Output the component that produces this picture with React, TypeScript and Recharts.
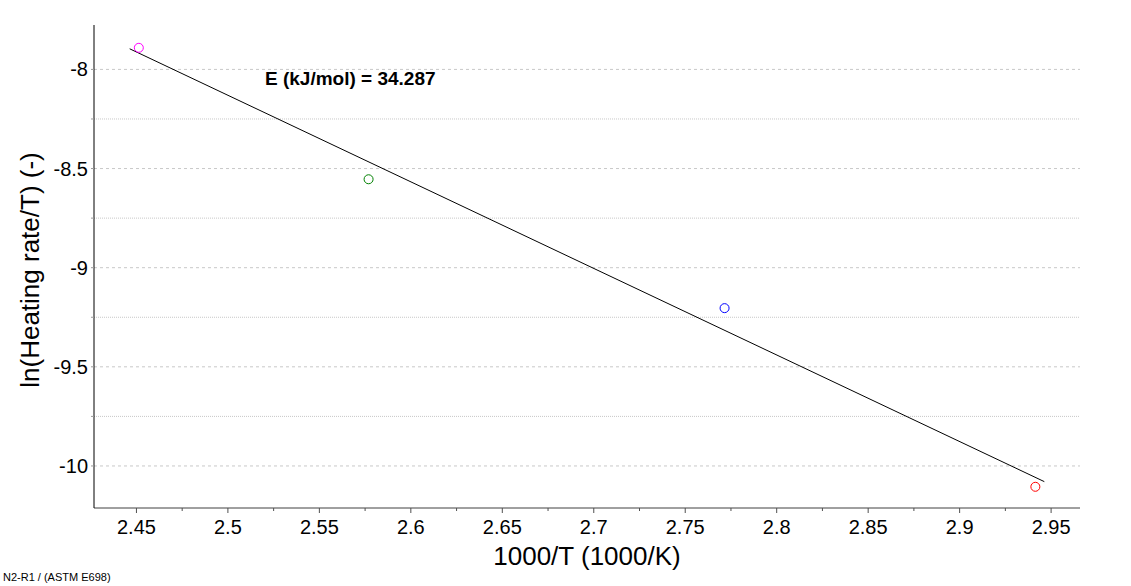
import React from "react";
import {
  ComposedChart,
  Scatter,
  XAxis,
  YAxis,
  ReferenceLine,
  Label,
} from "recharts";

// measured points (1000/T vs ln(rate/T))
const INV_T = [2.4513, 2.5769, 2.7715, 2.9414];
const LN_RATE = [-7.891, -8.554, -9.204, -10.105];
const POINT_COLORS = ["#ff00ff", "#008000", "#0000ff", "#ff0000"];

// regression line end points
const FIT_X = [2.4463, 2.9463];
const FIT_Y = [-7.896, -10.079];

const X_MAJOR = [2.45, 2.5, 2.55, 2.6, 2.65, 2.7, 2.75, 2.8, 2.85, 2.9, 2.95];
const X_MINOR = [2.475, 2.525, 2.575, 2.625, 2.675, 2.725, 2.775, 2.825, 2.875, 2.925];
const Y_MAJOR = [-10, -9.5, -9, -8.5, -8];
const Y_MINOR = [-9.75, -9.25, -8.75, -8.25];

const X_DOMAIN: [number, number] = [2.4268, 2.9658];
const Y_DOMAIN: [number, number] = [-10.212, -7.776];

const FONT = "'Liberation Sans', Arial, sans-serif";
const ANNOTATION = "E (kJ/mol) = 34.287";
const FOOTER = "N2-R1 / (ASTM E698)";

const points = INV_T.map((x, i) => ({ x, y: LN_RATE[i] }));
const fit = FIT_X.map((x, i) => ({ x, y: FIT_Y[i] }));
const xTicks = [...X_MAJOR, ...X_MINOR].sort((a, b) => a - b);
const yTicks = [...Y_MAJOR, ...Y_MINOR].sort((a, b) => a - b);

const XTick = ({ x, y, payload }: any) => {
  const major = X_MAJOR.includes(payload.value);
  return (
    <g>
      <line x1={x} x2={x} y1={y} y2={y + (major ? 5 : 3)} stroke="#505050" />
      {major && (
        <text x={x} y={y + 26} textAnchor="middle" fontSize={20} fontFamily={FONT} fill="#000">
          {String(payload.value)}
        </text>
      )}
    </g>
  );
};

const YTick = ({ x, y, payload }: any) => {
  const major = Y_MAJOR.includes(payload.value);
  return (
    <g>
      <line x1={x - 3} x2={x} y1={y} y2={y} stroke="#999" />
      {major && (
        <text x={x - 6} y={y + 7} textAnchor="end" fontSize={20} fontFamily={FONT} fill="#000">
          {String(payload.value)}
        </text>
      )}
    </g>
  );
};

const ring = (color: string) => (props: any) =>
  <circle cx={props.cx} cy={props.cy} r={4.5} stroke={color} strokeWidth={1} fill="none" />;

export default function App() {
  return (
    <div style={{ position: "absolute", left: 0, top: 0, width: 1131, height: 586, background: "#fff" }}>
      <ComposedChart
        width={1131}
        height={586}
        margin={{ top: 25, right: 51, bottom: 0, left: 0 }}
      >
        <XAxis
          dataKey="x"
          type="number"
          domain={X_DOMAIN}
          ticks={xTicks}
          interval={0}
          allowDataOverflow
          tickSize={0}
          tickMargin={0}
          tick={<XTick />}
          height={78}
          stroke="#404040"
        >
          <Label
            content={({ viewBox }: any) => (
              <text
                x={viewBox.x + viewBox.width / 2}
                y={565}
                textAnchor="middle"
                fontSize={26}
                fontFamily={FONT}
                fill="#000"
              >
                1000/T (1000/K)
              </text>
            )}
          />
        </XAxis>
        <YAxis
          dataKey="y"
          type="number"
          domain={Y_DOMAIN}
          ticks={yTicks}
          interval={0}
          allowDataOverflow
          tickSize={0}
          tickMargin={0}
          tick={<YTick />}
          width={94}
          stroke="#000"
        >
          <Label
            content={() => (
              <text
                x={0}
                y={0}
                transform="translate(39,270) rotate(-90)"
                textAnchor="middle"
                fontSize={26}
                fontFamily={FONT}
                fill="#000"
              >
                ln(Heating rate/T) (-)
              </text>
            )}
          />
        </YAxis>
        {Y_MINOR.map((v) => (
          <ReferenceLine key={`mn${v}`} y={v} stroke="#c8c8c8" strokeDasharray="1 1" />
        ))}
        {Y_MAJOR.map((v) => (
          <ReferenceLine key={`mj${v}`} y={v} stroke="#c8c8c8" strokeDasharray="3 3" />
        ))}
        <Scatter
          data={fit}
          line={{ stroke: "#000", strokeWidth: 1 }}
          shape={() => <g />}
          isAnimationActive={false}
        />
        {points.map((p, i) => (
          <Scatter
            key={i}
            data={[p]}
            shape={ring(POINT_COLORS[i])}
            isAnimationActive={false}
          />
        ))}
      </ComposedChart>
      <svg
        width={1131}
        height={586}
        style={{ position: "absolute", left: 0, top: 0, pointerEvents: "none" }}
      >
        <text x={265} y={85} fontSize={19} fontWeight="bold" fontFamily={FONT} fill="#000">
          {ANNOTATION}
        </text>
        <text x={3} y={581} fontSize={11} fontFamily={FONT} fill="#000">
          {FOOTER}
        </text>
      </svg>
    </div>
  );
}
